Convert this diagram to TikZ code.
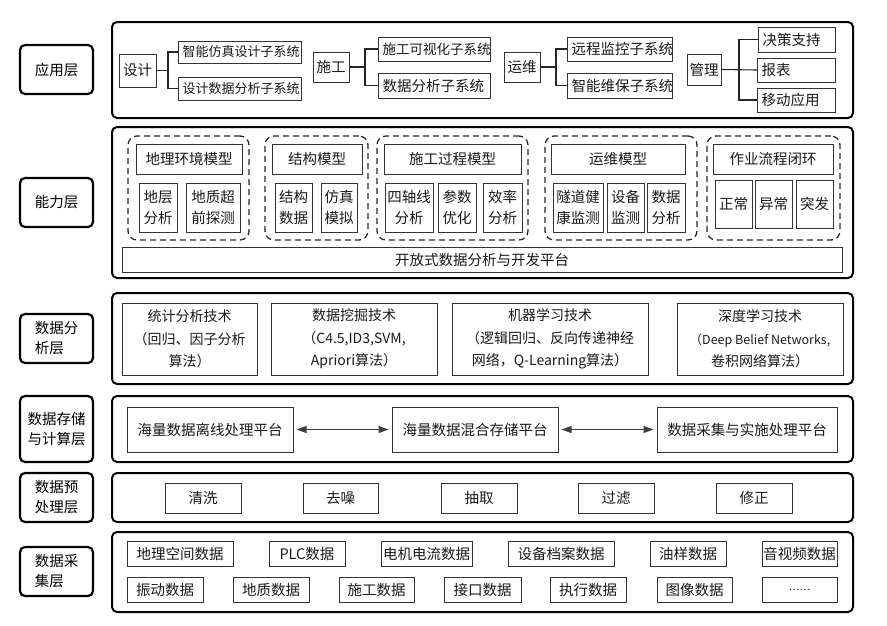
\documentclass[tikz,border=0pt]{standalone}
\usepackage{fontspec}
\setmainfont{Noto Sans CJK SC}
\usetikzlibrary{arrows.meta}
\newcommand{\bx}[7][box]{%
  \pgfmathsetmacro\bxw{#5-#3}\pgfmathsetmacro\bxh{#6-#4}%
  \node[#1,minimum width=\bxw pt,minimum height=\bxh pt] (#2) at ({(#3+#5)/2},{(#4+#6)/2}) {#7};}
\newcommand{\bxl}[7][]{%
  \pgfmathsetmacro\bxw{#5-#3-8}\pgfmathsetmacro\bxh{#6-#4}%
  \node[box,#1,align=left,inner xsep=4pt,text width=\bxw pt,minimum height=\bxh pt,anchor=west] (#2) at (#3,{(#4+#6)/2}) {#7};}
\begin{document}
\begin{tikzpicture}[x=1pt,y=-1pt,
  lay/.style={draw=black,line width=2.2pt,rounded corners=5pt,inner sep=0pt,align=left,font=\fontsize{14.5}{20}\selectfont},
  pan/.style={draw=black,line width=2pt,rounded corners=5pt,inner sep=0pt},
  box/.style={draw=black!80,line width=1pt,inner sep=0pt,align=center,font=\fontsize{14.5}{21}\selectfont,text=black!90},
  grp/.style={draw=black!85,line width=1.3pt,dash pattern=on 6pt off 4pt,rounded corners=9pt,inner sep=0pt},
  con/.style={draw=black!85,line width=1.1pt},
  arr/.style={draw=black!75,line width=1pt,{Triangle[length=10pt,width=7pt]}-{Triangle[length=10pt,width=7pt]},shorten <=3pt,shorten >=3pt}]
\useasboundingbox (0,0) rectangle (887,625);
% layer labels
\bx[lay]{L1}{20}{45}{93}{94}{应用层}
\bx[lay]{L2}{20}{178}{93}{227}{能力层}
\bx[lay]{L3}{20}{314}{93}{363}{数据分\\析层}
\bx[lay]{L4}{20}{396}{93}{462}{数据存储\\与计算层}
\bx[lay]{L5}{20}{473}{93}{522}{数据预\\处理层}
\bx[lay]{L6}{20}{547}{93}{596}{数据采\\集层}
% panels
\bx[pan]{P1}{112}{22}{853}{118}{}
\bx[pan]{P2}{112}{127}{853}{278}{}
\bx[pan]{P3}{112}{293}{853}{384}{}
\bx[pan]{P4}{112}{396}{853}{462}{}
\bx[pan]{P5}{112}{473}{853}{522}{}
\bx[pan]{P6}{112}{532}{853}{612}{}
% application layer
\bx{a0}{119}{54}{156}{87}{设计}
\bxl[font=\fontsize{13}{16}\selectfont,inner xsep=2pt]{a1}{178}{41}{301}{63}{智能仿真设计子系统}
\bxl[font=\fontsize{13}{16}\selectfont,inner xsep=2pt]{a2}{178}{77}{301}{100}{设计数据分析子系统}
\bx{b0}{313}{52}{349}{82}{施工}
\bxl[font=\fontsize{13.5}{16}\selectfont,inner xsep=1pt]{b1}{378}{37}{490}{61}{施工可视化子系统}
\bxl{b2}{378}{73}{490}{98}{数据分析子系统}
\bx{c0}{504}{52}{540}{82}{运维}
\bxl{c1}{567}{37}{672}{61}{远程监控子系统}
\bxl{c2}{567}{73}{672}{98}{智能维保子系统}
\bx{d0}{687}{54}{721}{85}{管理}
\bxl[inner xsep=5pt]{d1}{758}{27}{835}{52}{决策支持}
\bxl[inner xsep=5pt]{d2}{757}{58}{835}{82}{报表}
\bxl[inner xsep=5pt]{d3}{757}{88}{835}{112}{移动应用}
\coordinate (ja) at (168,0);
\coordinate (jb) at (365,0);
\coordinate (jc) at (556,0);
\coordinate (jd) at (739,0);
\draw[con] (a0.east) -- (a0.east -| ja) |- (a1.west);
\draw[con] (a0.east -| ja) |- (a2.west);
\draw[con] (b0.east) -- (b0.east -| jb) |- (b1.west);
\draw[con] (b0.east -| jb) |- (b2.west);
\draw[con] (c0.east) -- (c0.east -| jc) |- (c1.west);
\draw[con] (c0.east -| jc) |- (c2.west);
\draw[con] (d0.east) -- (d2.west);
\draw[con] (d0.east -| jd) |- (d1.west);
\draw[con] (d0.east -| jd) |- (d3.west);
% capability layer
\bx[grp]{g1}{128}{136}{249}{240}{}
\bx{g1t}{136}{144}{242}{174}{地理环境模型}
\bx{g1a}{139}{183}{177}{232}{地层\\分析}
\bx{g1b}{186}{183}{240}{232}{地质超\\前探测}
\bx[grp]{g2}{265}{136}{368}{240}{}
\bx{g2t}{272}{144}{362}{174}{结构模型}
\bx{g2a}{275}{183}{312}{232}{结构\\数据}
\bx{g2b}{321}{183}{357}{232}{仿真\\模拟}
\bx[grp]{g3}{377}{136}{528}{240}{}
\bx{g3t}{384}{144}{521}{174}{施工过程模型}
\bx{g3a}{385}{183}{433}{232}{四轴线\\分析}
\bx{g3b}{438}{183}{476}{232}{参数\\优化}
\bx{g3c}{483}{183}{522}{232}{效率\\分析}
\bx[grp]{g4}{545}{136}{697}{240}{}
\bx{g4t}{551}{144}{685}{174}{运维模型}
\bx{g4a}{553}{183}{603}{232}{隧道健\\康监测}
\bx{g4b}{607}{183}{644}{232}{设备\\监测}
\bx{g4c}{647}{183}{685}{232}{数据\\分析}
\bx[grp]{g5}{707}{136}{840}{240}{}
\bx{g5t}{713}{144}{833}{174}{作业流程闭环}
\bx{g5a}{715}{180}{752}{228}{正常}
\bx{g5b}{755}{180}{792}{228}{异常}
\bx{g5c}{796}{180}{833}{228}{突发}
\bx{bar}{122}{247}{842}{272}{开放式数据分析与开发平台}
% data analysis layer
\bx[box,font=\fontsize{14}{22.5}\selectfont]{s1}{122}{303}{257}{375}{统计分析技术\\（回归、因子分析\\算法）}
\bx[box,font=\fontsize{14}{22.5}\selectfont]{s2}{271}{303}{437}{375}{数据挖掘技术\\（C4.5,ID3,SVM,\\Apriori算法）}
\bx[box,font=\fontsize{14}{22.5}\selectfont]{s3}{452}{303}{648}{375}{机器学习技术\\（逻辑回归、反向传递神经\\网络，Q-Learning算法）}
\bx[box,font=\fontsize{14}{22.5}\selectfont]{s4}{677}{303}{843}{375}{深度学习技术\\{\fontsize{12.5}{22.5}\selectfont（Deep Belief Networks,}\\卷积网络算法）}
% storage layer
\bx{o1}{127}{407}{293}{452}{海量数据离线处理平台}
\bx{o2}{392}{407}{558}{452}{海量数据混合存储平台}
\bx{o3}{657}{407}{837}{452}{数据采集与实施处理平台}
\draw[arr] (o1) -- (o2);
\draw[arr] (o2) -- (o3);
% preprocessing layer
\bx{p1}{165}{483}{241}{513}{清洗}
\bx{p2}{303}{483}{378}{513}{去噪}
\bx{p3}{441}{483}{517}{513}{抽取}
\bx{p4}{578}{483}{654}{513}{过滤}
\bx{p5}{716}{483}{792}{513}{修正}
% acquisition layer
\bx{r1}{127}{541}{233}{566}{地理空间数据}
\bx{r2}{269}{541}{345}{566}{PLC数据}
\bx{r3}{381}{541}{472}{566}{电机电流数据}
\bx{r4}{508}{541}{614}{566}{设备档案数据}
\bx{r5}{650}{541}{726}{566}{油样数据}
\bx{r6}{762}{541}{837}{566}{音视频数据}
\bx{q1}{127}{577}{203}{602}{振动数据}
\bx{q2}{233}{577}{309}{602}{地质数据}
\bx{q3}{339}{577}{414}{602}{施工数据}
\bx{q4}{444}{577}{521}{602}{接口数据}
\bx{q5}{550}{577}{626}{602}{执行数据}
\bx{q6}{657}{577}{732}{602}{图像数据}
\bx[box,font=\fontsize{10}{12}\selectfont]{q7}{762}{577}{837}{602}{……}
\end{tikzpicture}
\end{document}
